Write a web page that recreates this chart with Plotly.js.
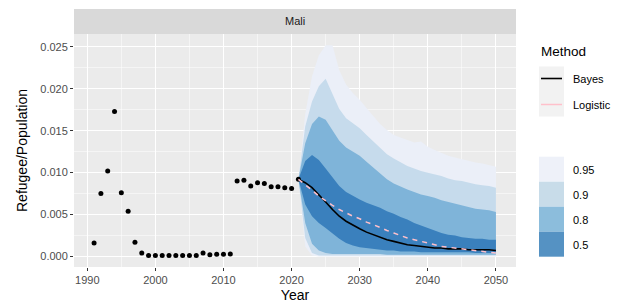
<!DOCTYPE html>
<html>
<head>
<meta charset="utf-8">
<script src="https://cdn.plot.ly/plotly-3.0.1.min.js"></script>
<style>html,body{margin:0;padding:0;background:#fff;}#chart{width:627px;height:306px;}</style>
</head>
<body>
<div id="chart"></div>
<script>
// ---- data ----
const obsYears = [1991,1992,1993,1994,1995,1996,1997,1998,1999,2000,2001,2002,2003,2004,2005,2006,2007,2008,2009,2010,2011,2012,2013,2014,2015,2016,2017,2018,2019,2020,2021];
const obsValues = [0.0016,0.0075,0.0102,0.0173,0.0076,0.0054,0.0017,0.0004,0.0001,0.0001,0.0001,0.0001,0.0001,0.0001,0.0001,0.0001,0.0004,0.0002,0.00025,0.00025,0.00028,0.0090,0.0091,0.0084,0.0088,0.0087,0.0083,0.0083,0.0082,0.0081,0.0092];

const fcYears = [2021,2022,2023,2024,2025,2026,2027,2028,2029,2030,2031,2032,2033,2034,2035,2036,2037,2038,2039,2040,2041,2042,2043,2044,2045,2046,2047,2048,2049,2050];

const bayes = [0.0092,0.0088,0.0082,0.0074,0.0065,0.0056,0.0048,0.0042,0.0037,0.0033,0.0029,0.0026,0.0023,0.0020,0.0018,0.0016,0.0014,0.0013,0.0012,0.0011,0.0010,0.0010,0.0009,0.0009,0.0009,0.0008,0.0008,0.0008,0.0008,0.0007];
const logistic = [0.0092,0.0086,0.0079,0.0072,0.0066,0.0061,0.0056,0.0052,0.0048,0.0045,0.0041,0.0038,0.0034,0.0031,0.0028,0.0025,0.0022,0.0020,0.0018,0.0016,0.0014,0.0012,0.0011,0.0010,0.0009,0.0008,0.0007,0.0006,0.0005,0.0004];

const upper95 = [0.0092,0.0170,0.0215,0.0240,0.0252,0.0252,0.0222,0.0205,0.0195,0.0187,0.0177,0.0167,0.0158,0.0151,0.0145,0.0142,0.0139,0.0136,0.0137,0.0131,0.0127,0.0123,0.0120,0.0118,0.0116,0.0114,0.0112,0.0111,0.0109,0.0107];
const lower95 = [0.0092,0.0012,0.0001,0,0,0,0,0,0,0,0,0,0,0,0,0,0,0,0,0,0,0,0,0,0,0,0,0,0,0];
const upper90 = [0.0092,0.0155,0.0185,0.0203,0.0212,0.0193,0.0176,0.0165,0.0159,0.0153,0.0145,0.0137,0.0129,0.0122,0.0117,0.0112,0.0108,0.0105,0.0102,0.0100,0.0098,0.0096,0.0093,0.0091,0.0090,0.0088,0.0086,0.0085,0.0084,0.0082];
const lower90 = [0.0092,0.0022,0.0004,0.0001,0.0001,0.0001,0.0001,0.0001,0.0001,0.0001,0.0001,0.0001,0.0001,0.0001,0.0001,0.0001,0.0001,0.0001,0.0001,0.0001,0.0001,0.0001,0.0001,0.0001,0.0001,0.0001,0.0001,0.0001,0.0001,0.0001];
const upper80 = [0.0092,0.0135,0.0158,0.0167,0.0163,0.0150,0.0138,0.0130,0.0125,0.0120,0.0113,0.0106,0.0099,0.0092,0.0087,0.0083,0.0080,0.0077,0.0074,0.0072,0.0070,0.0067,0.0065,0.0063,0.0061,0.0059,0.0057,0.0056,0.0055,0.0053];
const lower80 = [0.0092,0.0040,0.0015,0.0007,0.0004,0.0003,0.0003,0.0003,0.0003,0.0003,0.0003,0.0003,0.0003,0.0002,0.0002,0.0002,0.0002,0.0002,0.0002,0.0002,0.0002,0.0002,0.0002,0.0002,0.0002,0.0002,0.0002,0.0002,0.0002,0.0002];
const upper50 = [0.0092,0.0114,0.0121,0.0115,0.0105,0.0094,0.0084,0.0077,0.0072,0.0068,0.0064,0.0061,0.0058,0.0054,0.0051,0.0047,0.0044,0.0040,0.0037,0.0034,0.0031,0.0028,0.0026,0.0025,0.0023,0.0022,0.0021,0.0021,0.0020,0.0020];
const lower50 = [0.0092,0.0062,0.0048,0.0040,0.0034,0.0027,0.0021,0.0016,0.0013,0.0011,0.0010,0.0009,0.0008,0.0007,0.0007,0.0006,0.0006,0.0006,0.0005,0.0005,0.0005,0.0005,0.0005,0.0005,0.0005,0.0005,0.0004,0.0004,0.0004,0.0004];

const levelLabels = ['0.95','0.9','0.8','0.5'];
const methodLabels = ['Bayes','Logistic'];
const stripLabel = 'Mali';

// ---- styles ----
const bandColors = ['#ebeff8','#c6dbec','#7fb4d9','#3a80bd'];
const legendColors = ['#eef1f9','#c8dce9','#8cbddc','#5592c3'];
const font = 'Liberation Sans, Arial, sans-serif';

const bands = [[upper95,lower95],[upper90,lower90],[upper80,lower80],[upper50,lower50]];
const traces = [];
bands.forEach((b,i)=>{
  traces.push({x: fcYears, y: b[1], type:'scatter', mode:'lines', line:{width:0,color:bandColors[i]}, hoverinfo:'skip', showlegend:false});
  traces.push({x: fcYears, y: b[0], type:'scatter', mode:'lines', fill:'tonexty', fillcolor:bandColors[i], line:{width:0,color:bandColors[i]}, hoverinfo:'skip', showlegend:false, name: levelLabels[i]});
});
traces.push({x: obsYears, y: obsValues, type:'scatter', mode:'markers', marker:{color:'#000', size:5}, showlegend:false});
traces.push({x: fcYears, y: bayes, type:'scatter', mode:'lines', line:{color:'#000', width:1.6}, showlegend:false, name:methodLabels[0]});
traces.push({x: fcYears, y: logistic, type:'scatter', mode:'lines', line:{color:'#ffc0cb', width:1.5, dash:'5px,5px'}, showlegend:false, name:methodLabels[1]});

const L = 74, R = 516, T = 34, B = 267;
const W = R - L, H = B - T;
const px = v => (v - L) / W;
const py = v => (B - v) / H;

const shapes = [];
const annotations = [];
// strip
shapes.push({type:'rect', xref:'paper', yref:'paper', x0:0, x1:1, y0:1, y1:py(9), fillcolor:'#d9d9d9', line:{width:0}});
annotations.push({xref:'paper', yref:'paper', x:0.5, y:py(21.5), text:stripLabel, showarrow:false, font:{family:font, size:11, color:'#1a1a1a'}, xanchor:'center', yanchor:'middle'});
// method legend
annotations.push({xref:'paper', yref:'paper', x:px(539), y:py(51.5), text:'Method', showarrow:false, font:{family:font, size:13.5, color:'#000'}, xanchor:'left', yanchor:'middle'});
shapes.push({type:'rect', xref:'paper', yref:'paper', x0:px(539), x1:px(564), y0:py(66.5), y1:py(116.5), fillcolor:'#f2f2f2', line:{width:0}});
shapes.push({type:'line', xref:'paper', yref:'paper', x0:px(541), x1:px(562), y0:py(78.5), y1:py(78.5), line:{color:'#000', width:1.6}});
shapes.push({type:'line', xref:'paper', yref:'paper', x0:px(541), x1:px(562), y0:py(104.5), y1:py(104.5), line:{color:'#ffc0cb', width:1.5}});
annotations.push({xref:'paper', yref:'paper', x:px(571), y:py(78.5), text:methodLabels[0], showarrow:false, font:{family:font, size:11, color:'#000'}, xanchor:'left', yanchor:'middle'});
annotations.push({xref:'paper', yref:'paper', x:px(571), y:py(104.5), text:methodLabels[1], showarrow:false, font:{family:font, size:11, color:'#000'}, xanchor:'left', yanchor:'middle'});
// level legend
levelLabels.forEach((lab,i)=>{
  const y0 = 156.7 + 25*i;
  shapes.push({type:'rect', xref:'paper', yref:'paper', x0:px(539), x1:px(564), y0:py(y0), y1:py(y0+25), fillcolor:legendColors[i], line:{width:0}});
  annotations.push({xref:'paper', yref:'paper', x:px(571), y:py(y0+13), text:lab, showarrow:false, font:{family:font, size:11, color:'#000'}, xanchor:'left', yanchor:'middle'});
});

const layout = {
  width: 627, height: 306,
  margin: {l: L, r: 627 - R, t: T, b: 306 - B, pad: 0},
  paper_bgcolor: '#fff', plot_bgcolor: '#ebebeb',
  showlegend: false,
  font: {family: font, color: '#4d4d4d', size: 11},
  xaxis: {
    range: [1988.05, 2052.95], tickvals: [1990,2000,2010,2020,2030,2040,2050],
    ticks: 'outside', ticklen: 3, tickcolor: '#333', tickwidth: 1,
    showgrid: true, gridcolor: '#fff', gridwidth: 1.1, zeroline: false, showline: false,
    minor: {tickvals: [1995,2005,2015,2025,2035,2045], showgrid: true, gridcolor: '#fff', gridwidth: 0.5},
    tickfont: {family: font, size: 11, color: '#4d4d4d'},
    title: {text: 'Year', font: {family: font, size: 14, color: '#000'}, standoff: 4},
    automargin: false
  },
  yaxis: {
    range: [-0.00126, 0.02654], tickvals: [0,0.005,0.01,0.015,0.02,0.025], ticktext: ['0.000','0.005','0.010','0.015','0.020','0.025'],
    ticks: 'outside', ticklen: 3, tickcolor: '#333', tickwidth: 1,
    showgrid: true, gridcolor: '#fff', gridwidth: 1.1, zeroline: false, showline: false,
    minor: {tickvals: [0.0025,0.0075,0.0125,0.0175,0.0225], showgrid: true, gridcolor: '#fff', gridwidth: 0.5},
    tickfont: {family: font, size: 11, color: '#4d4d4d'},
    title: {text: 'Refugee/Population', font: {family: font, size: 14, color: '#000'}, standoff: 9},
    automargin: false
  },
  shapes: shapes,
  annotations: annotations
};

Plotly.newPlot('chart', traces, layout, {displayModeBar: false, staticPlot: true});
</script>
</body>
</html>
